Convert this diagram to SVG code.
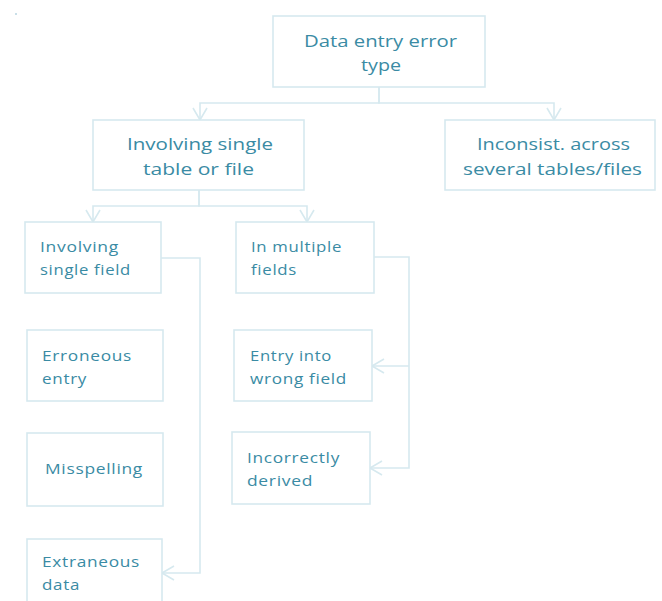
<svg xmlns="http://www.w3.org/2000/svg" width="662" height="601" viewBox="0 0 662 601">
<style>
.box{fill:#ffffff;stroke:#d6e9ef;stroke-width:1.6}
.t{font-family:"Open Sans","Noto Sans","Liberation Sans",sans-serif;fill:#3a8ba4}
.big{font-size:17px}
.sm{font-size:15px;letter-spacing:0.6px}
.c{text-anchor:middle}
.con{fill:none;stroke:#d6e9ef;stroke-width:1.6}
</style>
<defs>
<marker id="arr" markerUnits="userSpaceOnUse" markerWidth="16" markerHeight="18" refX="12" refY="7" orient="auto" overflow="visible">
<path d="M0,0 L12,7 L0,14" fill="none" stroke="#d6e9ef" stroke-width="1.6"/>
</marker>
</defs>
<rect x="15" y="13" width="2" height="2" fill="#c9dfe8"/>
<g id="connectors">
<path class="con" d="M379,87 V103 H200 V120" marker-end="url(#arr)"/>
<path class="con" d="M379,87 V103 H554 V120" marker-end="url(#arr)"/>
<path class="con" d="M199,190 V206 H93 V222" marker-end="url(#arr)"/>
<path class="con" d="M199,190 V206 H307 V222" marker-end="url(#arr)"/>
<path class="con" d="M161,258 H200 V573 H162" marker-end="url(#arr)"/>
<path class="con" d="M374,257 H409 V468 H370" marker-end="url(#arr)"/>
<path class="con" d="M409,366 H372" marker-end="url(#arr)"/>
</g>
<g id="root">
<rect class="box" x="273" y="16" width="212" height="71"/>
<text class="t big c" x="380.5" y="47" textLength="153" lengthAdjust="spacingAndGlyphs">Data entry error</text>
<text class="t big c" x="381" y="71" textLength="40" lengthAdjust="spacingAndGlyphs">type</text>
</g>
<g id="single-table">
<rect class="box" x="93" y="120" width="211" height="70"/>
<text class="t big c" x="200" y="150" textLength="146" lengthAdjust="spacingAndGlyphs">Involving single</text>
<text class="t big c" x="198.5" y="175" textLength="111" lengthAdjust="spacingAndGlyphs">table or file</text>
</g>
<g id="several-tables">
<rect class="box" x="445" y="120" width="210" height="70"/>
<text class="t big c" x="553.5" y="150" textLength="153" lengthAdjust="spacingAndGlyphs">Inconsist. across</text>
<text class="t big c" x="552.5" y="175" textLength="179" lengthAdjust="spacingAndGlyphs">several tables/files</text>
</g>
<g id="single-field">
<rect class="box" x="25" y="222" width="136" height="71"/>
<text class="t sm" x="40" y="252" textLength="79" lengthAdjust="spacingAndGlyphs">Involving</text>
<text class="t sm" x="40" y="275" textLength="91" lengthAdjust="spacingAndGlyphs">single field</text>
</g>
<g id="multiple-fields">
<rect class="box" x="236" y="222" width="138" height="71"/>
<text class="t sm" x="251" y="252" textLength="91" lengthAdjust="spacingAndGlyphs">In multiple</text>
<text class="t sm" x="251" y="275" textLength="46" lengthAdjust="spacingAndGlyphs">fields</text>
</g>
<g id="erroneous-entry">
<rect class="box" x="27" y="330" width="136" height="71"/>
<text class="t sm" x="42" y="361" textLength="90" lengthAdjust="spacingAndGlyphs">Erroneous</text>
<text class="t sm" x="42" y="384" textLength="45" lengthAdjust="spacingAndGlyphs">entry</text>
</g>
<g id="wrong-field">
<rect class="box" x="234" y="330" width="138" height="71"/>
<text class="t sm" x="250" y="361" textLength="82" lengthAdjust="spacingAndGlyphs">Entry into</text>
<text class="t sm" x="250" y="384" textLength="97" lengthAdjust="spacingAndGlyphs">wrong field</text>
</g>
<g id="misspelling">
<rect class="box" x="27" y="433" width="136" height="73"/>
<text class="t sm" x="45" y="474" textLength="98" lengthAdjust="spacingAndGlyphs">Misspelling</text>
</g>
<g id="incorrectly-derived">
<rect class="box" x="232" y="432" width="138" height="72"/>
<text class="t sm" x="247" y="463" textLength="93" lengthAdjust="spacingAndGlyphs">Incorrectly</text>
<text class="t sm" x="247" y="486" textLength="66" lengthAdjust="spacingAndGlyphs">derived</text>
</g>
<g id="extraneous-data">
<rect class="box" x="27" y="539" width="135" height="80"/>
<text class="t sm" x="42" y="567" textLength="98" lengthAdjust="spacingAndGlyphs">Extraneous</text>
<text class="t sm" x="42" y="590" textLength="38" lengthAdjust="spacingAndGlyphs">data</text>
</g>
</svg>
